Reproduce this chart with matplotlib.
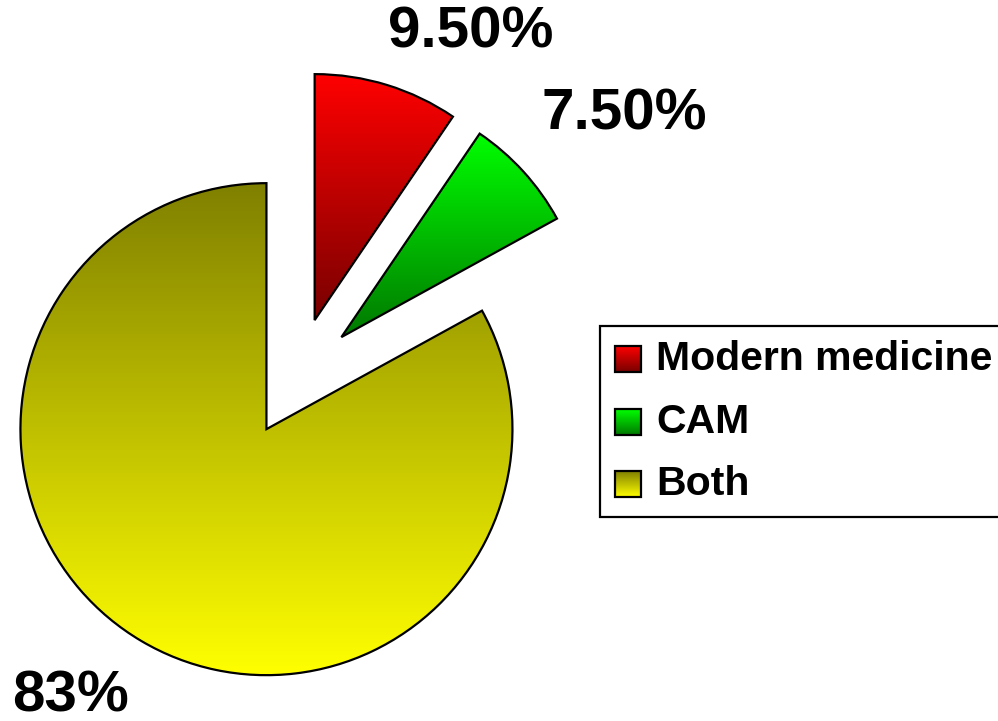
import numpy as np
import matplotlib
matplotlib.use("Agg")
import matplotlib.pyplot as plt
from matplotlib.patches import Rectangle
from matplotlib.colors import LinearSegmentedColormap

plt.rcParams['font.family'] = ['Liberation Sans', 'DejaVu Sans']

categories = ["Modern medicine", "CAM", "Both"]
values = [9.5, 7.5, 83.0]
value_labels = ["9.50%", "7.50%", "83%"]
top_colors = ["#ff0000", "#00ff00", "#808000"]
bottom_colors = ["#780000", "#007800", "#ffff00"]
explode_frac = [0.244, 0.244, 0.244]

W, H = 998, 721
fig = plt.figure(figsize=(W / 100, H / 100), dpi=100)
ax = fig.add_axes([0, 0, 1, 1])

R = 246
cx, cy = 297, H - 377.5
wedges, _ = ax.pie(values, startangle=90, counterclock=False,
                   explode=[e * R for e in explode_frac],
                   radius=R, center=(cx, cy), frame=True,
                   wedgeprops=dict(edgecolor='black', linewidth=1.6, facecolor='none'))

grad = np.linspace(0, 1, 256).reshape(-1, 1)
for w, tc, bc in zip(wedges, top_colors, bottom_colors):
    w.set_facecolor('none')
    w.set_zorder(3)
    ext = w.get_path().get_extents(w.get_patch_transform())
    cmap = LinearSegmentedColormap.from_list('g', [bc, tc])
    im = ax.imshow(grad, cmap=cmap, extent=[ext.x0, ext.x1, ext.y0, ext.y1],
                   origin='lower', aspect='auto', zorder=2, interpolation='bilinear')
    im.set_clip_path(w)

ax.set_xlim(0, W)
ax.set_ylim(0, H)
ax.set_aspect('auto')
ax.axis('off')

# value labels
label_pos = [(471, H - 33), (624, H - 114), (71, H - 697)]
for (x, y), t in zip(label_pos, value_labels):
    ax.text(x, y, t, fontsize=42, fontweight='bold', ha='center', va='center', zorder=5)

# legend (manual, with gradient swatches)
ax.add_patch(Rectangle((600, H - 517), 420, 191, facecolor='white', edgecolor='black',
                       linewidth=1.6, zorder=4, clip_on=False))
row_y = [359, 422, 484]
for cat, tc, bc, ry in zip(categories, top_colors, bottom_colors, row_y):
    y = H - ry
    sq = Rectangle((615, y - 13), 26, 26, facecolor='none', edgecolor='black',
                   linewidth=1.6, zorder=6)
    ax.add_patch(sq)
    cmap = LinearSegmentedColormap.from_list('g', [bc, tc])
    im = ax.imshow(grad, cmap=cmap, extent=[615, 641, y - 13, y + 13],
                   origin='lower', aspect='auto', zorder=5, interpolation='bilinear')
    im.set_clip_path(sq)
    ax.text(656, y, cat, fontsize=29.5, fontweight='bold', ha='left', va='center', zorder=6)

ax.set_xlim(0, W)
ax.set_ylim(0, H)

fig.savefig("out.png", dpi=100)
